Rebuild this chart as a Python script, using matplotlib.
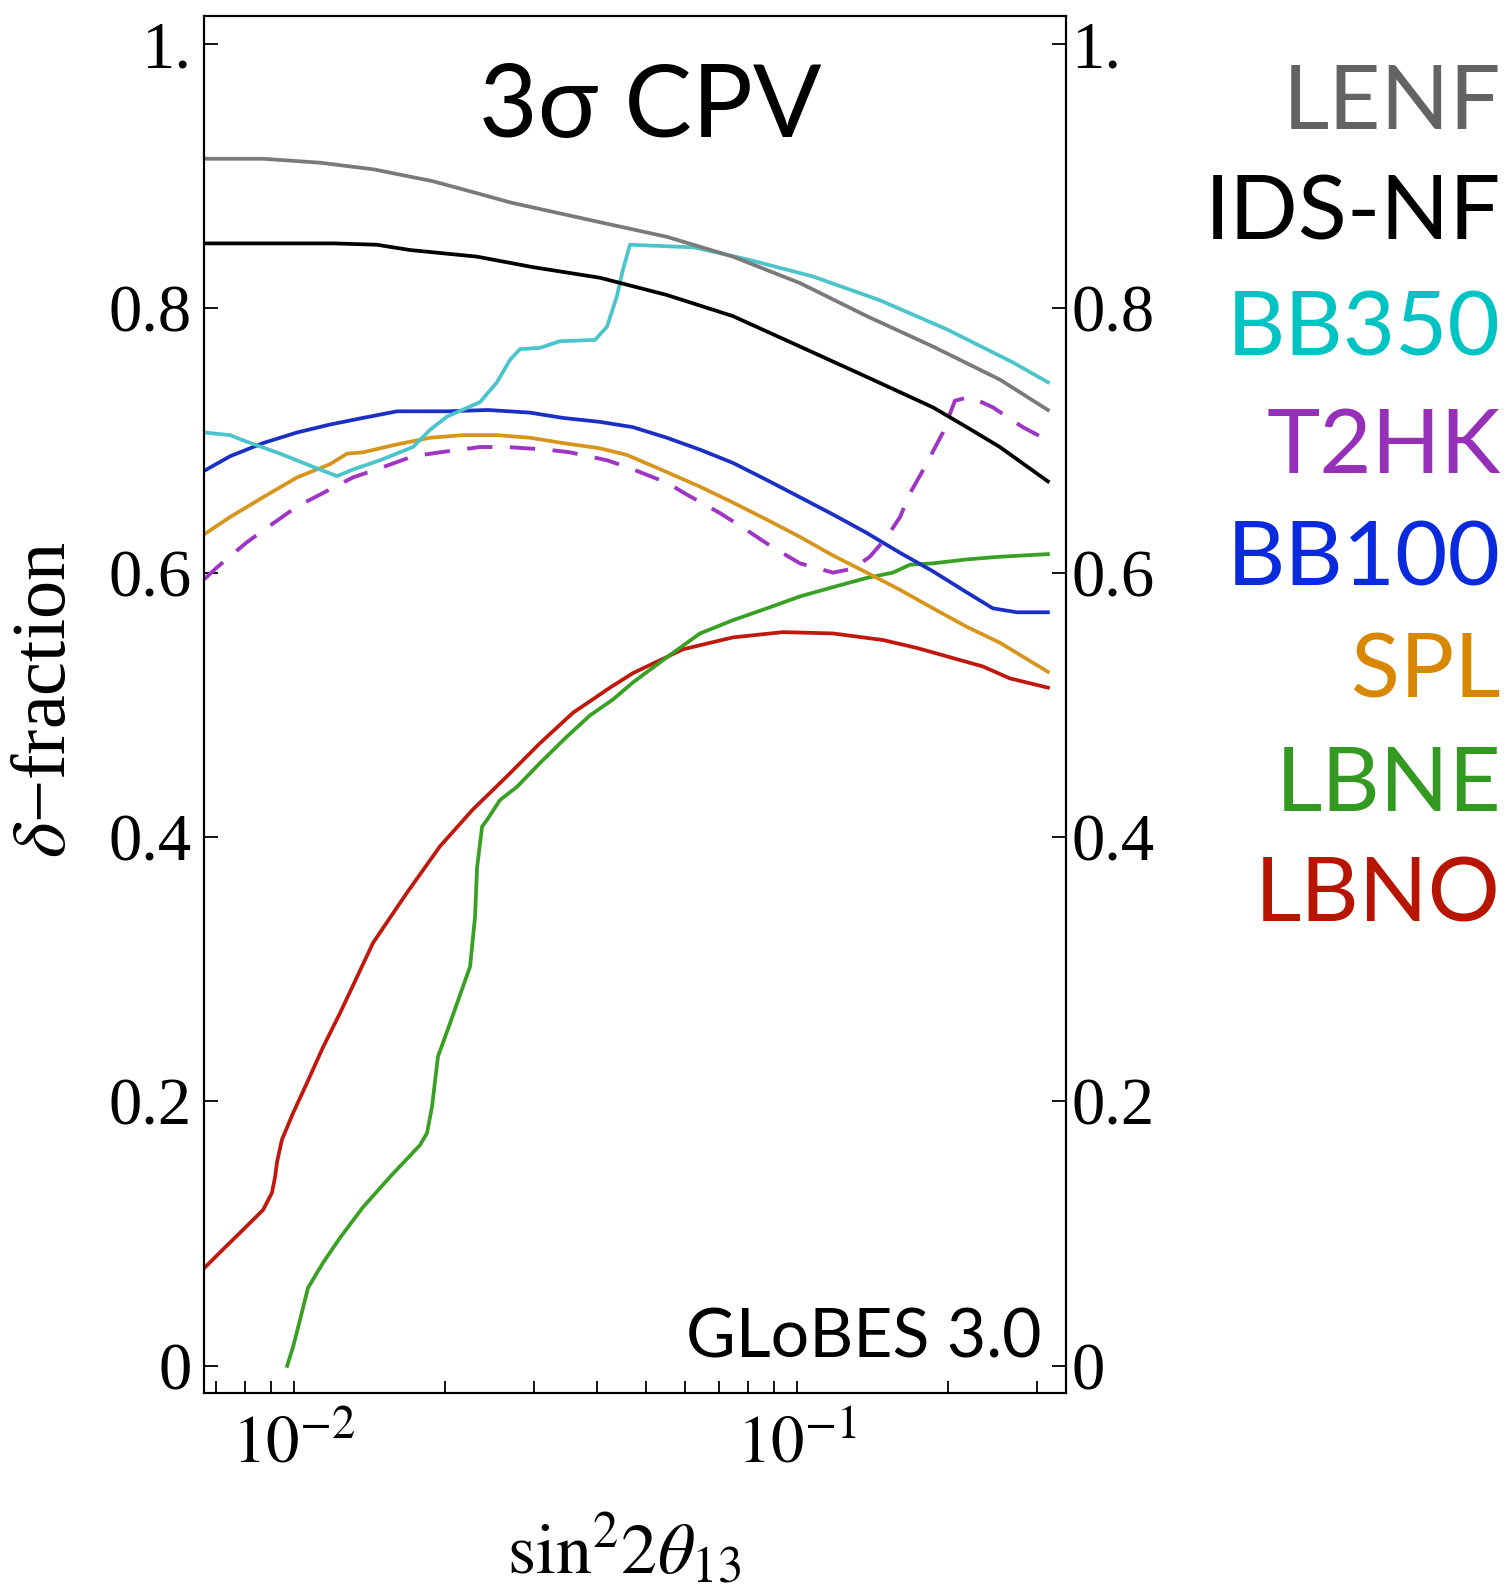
import matplotlib
matplotlib.use('Agg')
import matplotlib.pyplot as plt
from matplotlib.ticker import FixedLocator, FixedFormatter, NullFormatter

plt.rcParams['mathtext.fontset'] = 'stix'
plt.rcParams['font.family'] = ['Liberation Serif', 'DejaVu Serif']

# values: sin^2(2 theta13) and delta-fraction
lenf_x = [0.00663, 0.0087, 0.0113, 0.0144, 0.0189, 0.0231, 0.0269, 0.0406,
          0.0551, 0.0746, 0.1014, 0.1377, 0.1864, 0.2532, 0.3155]
lenf_y = [0.913, 0.913, 0.910, 0.905, 0.896, 0.887, 0.880, 0.865,
          0.854, 0.839, 0.819, 0.794, 0.771, 0.746, 0.723]

idsnf_x = [0.00663, 0.0120, 0.0146, 0.0170, 0.0231, 0.0299, 0.0406, 0.0551,
           0.0746, 0.1014, 0.1377, 0.1864, 0.2177, 0.2532, 0.3155]
idsnf_y = [0.849, 0.849, 0.848, 0.844, 0.839, 0.831, 0.823, 0.810,
           0.794, 0.771, 0.748, 0.725, 0.710, 0.695, 0.669]

bb350_x = [0.00663, 0.00746, 0.00806, 0.00938, 0.01091, 0.01218, 0.0131, 0.01483,
           0.01724, 0.01864, 0.02014, 0.02344, 0.02533, 0.02689, 0.02814, 0.03084,
           0.03379, 0.03967, 0.04191, 0.04385, 0.04508, 0.04656, 0.0624, 0.07955,
           0.1076, 0.1462, 0.1987, 0.2688, 0.3155]
bb350_y = [0.706, 0.704, 0.699, 0.690, 0.680, 0.673, 0.678, 0.685,
           0.695, 0.708, 0.718, 0.729, 0.744, 0.761, 0.769, 0.770,
           0.775, 0.776, 0.786, 0.809, 0.829, 0.848, 0.846, 0.837,
           0.824, 0.806, 0.784, 0.759, 0.744]

t2hk_x = [0.00663, 0.00703, 0.00806, 0.00884, 0.01014, 0.01126, 0.0131, 0.01483,
          0.01724, 0.01951, 0.02344, 0.02652, 0.03184, 0.03537, 0.04191, 0.04656,
          0.05514, 0.06043, 0.0703, 0.0781, 0.0896, 0.1014, 0.1179, 0.1292,
          0.1396, 0.1510, 0.1603, 0.1678, 0.1797, 0.1951, 0.2061, 0.2208,
          0.2452, 0.2813, 0.3155]
t2hk_y = [0.595, 0.604, 0.623, 0.634, 0.650, 0.659, 0.672, 0.679,
          0.688, 0.691, 0.695, 0.695, 0.693, 0.691, 0.685, 0.679,
          0.668, 0.659, 0.645, 0.634, 0.619, 0.607, 0.600, 0.603,
          0.612, 0.627, 0.642, 0.660, 0.680, 0.706, 0.730, 0.733,
          0.725, 0.710, 0.700]

bb100_x = [0.00663, 0.00746, 0.00868, 0.01014, 0.01179, 0.01371, 0.01602, 0.02014,
           0.02431, 0.02946, 0.03426, 0.04059, 0.04721, 0.05514, 0.06415, 0.07459,
           0.08718, 0.1014, 0.1179, 0.1377, 0.1603, 0.1864, 0.2177, 0.2452,
           0.2737, 0.3155]
bb100_y = [0.677, 0.688, 0.698, 0.706, 0.712, 0.717, 0.722, 0.722,
           0.723, 0.721, 0.717, 0.714, 0.710, 0.702, 0.693, 0.683,
           0.670, 0.657, 0.644, 0.630, 0.615, 0.601, 0.585, 0.573,
           0.570, 0.570]

spl_x = [0.00663, 0.00746, 0.00868, 0.01014, 0.01179, 0.01275, 0.01371, 0.01602,
         0.01864, 0.02168, 0.02533, 0.02946, 0.03426, 0.04059, 0.04592, 0.05514,
         0.06415, 0.07459, 0.08718, 0.1014, 0.1179, 0.1377, 0.1603, 0.1864,
         0.2177, 0.2532, 0.3155]
spl_y = [0.629, 0.642, 0.657, 0.672, 0.682, 0.690, 0.691, 0.697,
         0.702, 0.704, 0.704, 0.702, 0.698, 0.694, 0.689, 0.676,
         0.665, 0.653, 0.640, 0.627, 0.613, 0.600, 0.587, 0.573,
         0.559, 0.547, 0.525]

lbne_x = [0.00969, 0.00995, 0.01028, 0.01066, 0.01142, 0.01235, 0.01371, 0.01552,
          0.0178, 0.01838, 0.01881, 0.01933, 0.02042, 0.02168, 0.02239, 0.02291,
          0.02312, 0.02366, 0.0242, 0.02568, 0.02776, 0.03084, 0.03489, 0.03877,
          0.04306, 0.04721, 0.05514, 0.06415, 0.07459, 0.08718, 0.1014, 0.1179,
          0.1377, 0.1552, 0.1678, 0.1864, 0.2177, 0.2532, 0.3155]
lbne_y = [0.0, 0.014, 0.035, 0.059, 0.078, 0.097, 0.120, 0.143,
          0.167, 0.176, 0.196, 0.234, 0.259, 0.287, 0.302, 0.340,
          0.377, 0.408, 0.413, 0.428, 0.438, 0.456, 0.476, 0.492,
          0.504, 0.517, 0.536, 0.554, 0.564, 0.573, 0.582, 0.589,
          0.596, 0.600, 0.606, 0.607, 0.610, 0.612, 0.614]

lbno_x = [0.00663, 0.00722, 0.00792, 0.00868, 0.00904, 0.00917, 0.00925, 0.00946,
          0.00995, 0.01061, 0.01142, 0.01235, 0.01436, 0.01678, 0.01951, 0.0227,
          0.02652, 0.03084, 0.03587, 0.04249, 0.04721, 0.05933, 0.07459, 0.09381,
          0.1179, 0.1483, 0.1733, 0.2015, 0.2343, 0.2651, 0.3155]
lbno_y = [0.074, 0.088, 0.103, 0.118, 0.131, 0.143, 0.154, 0.171,
          0.191, 0.214, 0.241, 0.267, 0.320, 0.358, 0.393, 0.421,
          0.446, 0.471, 0.494, 0.513, 0.524, 0.542, 0.551, 0.555,
          0.554, 0.549, 0.543, 0.536, 0.529, 0.520, 0.513]

names = ['LENF', 'IDS-NF', 'BB350', 'T2HK', 'BB100', 'SPL', 'LBNE', 'LBNO']
text_colors = ['#636363', '#000000', '#00c4c4', '#9630b8', '#0a2bdd', '#d98600', '#339920', '#b81500']

y_ticks = [0, 0.2, 0.4, 0.6, 0.8, 1.0]
y_ticklabels = ['0', '0.2', '0.4', '0.6', '0.8', '1.']
x_ticks = [1e-2, 1e-1]
x_ticklabels = [r'$10^{-2}$', r'$10^{-1}$']
x_minor = [7e-3, 8e-3, 9e-3, 2e-2, 3e-2, 4e-2, 5e-2, 6e-2, 7e-2, 8e-2, 9e-2, 2e-1, 3e-1]

W, H = 1510, 1586
fig = plt.figure(figsize=(W / 100, H / 100), dpi=100)
ax = fig.add_axes([204 / W, 1 - 1393 / H, (1066 - 204) / W, (1393 - 16) / H])

lw = 2.7
ax.plot(lbno_x, lbno_y, color='#c0180c', lw=lw)
ax.plot(lbne_x, lbne_y, color='#38a022', lw=lw)
ax.plot(spl_x, spl_y, color='#d8951e', lw=lw)
ax.plot(bb100_x, bb100_y, color='#1a2fc4', lw=lw)
ax.plot(t2hk_x, t2hk_y, color='#a035c4', lw=2.8, dashes=(6.5, 4.5))
ax.plot(bb350_x, bb350_y, color='#4cc4cc', lw=lw)
ax.plot(idsnf_x, idsnf_y, color='#000000', lw=lw)
ax.plot(lenf_x, lenf_y, color='#7a7a7a', lw=lw)

ax.set_xscale('log')
ax.set_xlim(10 ** -2.179, 10 ** -0.465)
ax.set_ylim(-0.0205, 1.021)

ax.xaxis.set_major_locator(FixedLocator(x_ticks))
ax.xaxis.set_major_formatter(FixedFormatter(x_ticklabels))
ax.xaxis.set_minor_locator(FixedLocator(x_minor))
ax.xaxis.set_minor_formatter(NullFormatter())
ax.set_yticks(y_ticks)
ax.set_yticklabels(y_ticklabels)

ax.tick_params(axis='x', which='both', direction='in', length=9, width=1.3,
               labelsize=48, pad=16, top=False)
ax.tick_params(axis='y', which='major', direction='in', length=10, width=1.3,
               labelsize=48, pad=9, right=False)
for s in ax.spines.values():
    s.set_linewidth(1.5)

ax2 = ax.twinx()
ax2.set_ylim(ax.get_ylim())
ax2.set_yticks(y_ticks)
ax2.set_yticklabels(y_ticklabels)
ax2.tick_params(axis='y', direction='in', length=10, width=1.3, labelsize=48, pad=4)
for s in ax2.spines.values():
    s.set_linewidth(1.5)

# axis titles
fig.text(624 / W, 1 - 1573 / H, r'$\sin^2\!2\theta_{13}$', ha='center', va='baseline', fontsize=52)
fig.text(47 / W, 1 - 700 / H, r'$\delta$' + '\u2212fraction', ha='center', va='center',
         rotation=90, fontsize=55)

# annotations in the plot
fig.text(650 / W, 1 - 137 / H, '3\u03c3 CPV', ha='center', va='baseline',
         fontsize=73, family=['Lato', 'DejaVu Sans'])
fig.text(1042 / W, 1 - 1358 / H, 'GLoBES 3.0', ha='right', va='baseline',
         fontsize=49, family=['Lato', 'DejaVu Sans'])

# colour legend on the right
baselines = [129, 239, 356, 473, 585, 698, 811, 922]
for name, c, yb in zip(names, text_colors, baselines):
    fig.text(1501 / W, 1 - yb / H, name, ha='right', va='baseline', color=c,
             fontsize=65, family=['Lato', 'DejaVu Sans'])

fig.savefig('out.png', dpi=100, facecolor='white')
